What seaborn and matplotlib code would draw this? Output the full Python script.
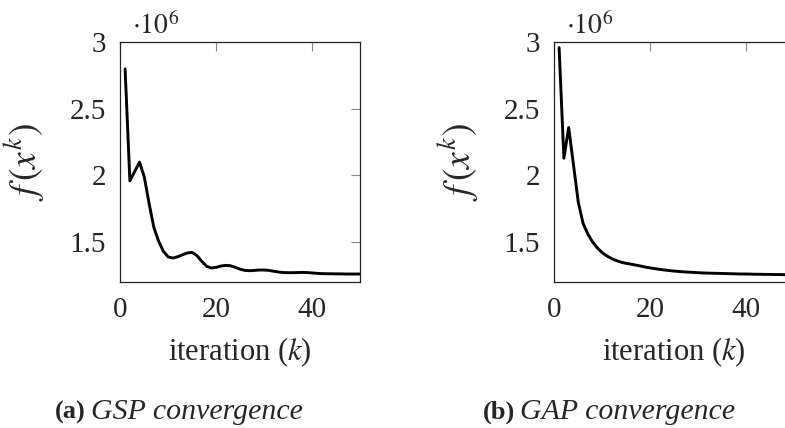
import matplotlib
matplotlib.use("Agg")
import matplotlib.pyplot as plt
from matplotlib.ticker import FuncFormatter
import numpy as np
import pandas as pd
import seaborn as sns

# Objective value per iteration for the two solvers
iterations = list(range(1, 51))
gsp_values = [
    2.80e6, 1.96e6, 2.03e6, 2.10e6, 1.99e6, 1.79e6, 1.61e6, 1.505e6, 1.43e6, 1.388e6,
    1.380e6, 1.390e6, 1.405e6, 1.418e6, 1.422e6, 1.398e6, 1.355e6, 1.318e6, 1.305e6, 1.310e6,
    1.320e6, 1.325e6, 1.322e6, 1.310e6, 1.296e6, 1.287e6, 1.285e6, 1.287e6, 1.290e6, 1.290e6,
    1.287e6, 1.281e6, 1.275e6, 1.271e6, 1.270e6, 1.270e6, 1.271e6, 1.272e6, 1.271e6, 1.268e6,
    1.265e6, 1.263e6, 1.262e6, 1.262e6, 1.261e6, 1.261e6, 1.260e6, 1.260e6, 1.260e6, 1.260e6,
]
gap_values = [
    2.96e6, 2.13e6, 2.36e6, 2.08e6, 1.80e6, 1.64e6, 1.56e6, 1.50e6, 1.455e6, 1.42e6,
    1.395e6, 1.375e6, 1.360e6, 1.348e6, 1.340e6, 1.334e6, 1.327e6, 1.320e6, 1.312e6, 1.306e6,
    1.300e6, 1.295e6, 1.290e6, 1.286e6, 1.282e6, 1.279e6, 1.276e6, 1.274e6, 1.272e6, 1.270e6,
    1.268e6, 1.267e6, 1.266e6, 1.265e6, 1.264e6, 1.263e6, 1.262e6, 1.261e6, 1.260e6, 1.260e6,
    1.259e6, 1.258e6, 1.258e6, 1.257e6, 1.257e6, 1.256e6, 1.256e6, 1.255e6, 1.255e6, 1.255e6,
]
x_ticks = [0, 20, 40]
y_ticks = [1.5e6, 2.0e6, 2.5e6, 3.0e6]
captions = [("(a)", "GSP convergence"), ("(b)", "GAP convergence")]

sns.set_theme(style="white")
plt.rcParams["font.family"] = ["Liberation Serif", "DejaVu Serif"]
plt.rcParams["mathtext.fontset"] = "stix"

fig = plt.figure(figsize=(7.85, 4.28), dpi=100)
W, H = 785, 428

def px_axes(left, top, right, bottom):
    return fig.add_axes([left / W, 1 - bottom / H, (right - left) / W, (bottom - top) / H])

AX_W = 239.7
ax_a = px_axes(120.3, 42.3, 120.3 + AX_W, 282.0)
ax_b = px_axes(554.3, 42.3, 554.3 + AX_W, 282.0)

frames = [
    pd.DataFrame({"iteration": iterations, "f": gsp_values}),
    pd.DataFrame({"iteration": iterations, "f": gap_values}),
]

fmt = FuncFormatter(lambda v, pos: f"{v / 1e6:g}")

for ax, df in zip([ax_a, ax_b], frames):
    sns.lineplot(data=df, x="iteration", y="f", ax=ax, color="black", linewidth=2.1)
    ax.set_xlim(0, 50)
    ax.set_ylim(1.2e6, 3.0e6)
    ax.set_xticks(x_ticks)
    ax.set_yticks(y_ticks)
    ax.yaxis.set_major_formatter(fmt)
    ax.tick_params(direction="in", length=6.5, width=0.8, color="#8a8a8a",
                   top=True, right=True, labelsize=21)
    ax.tick_params(axis="x", pad=11)
    ax.tick_params(axis="y", pad=10)
    for s in ax.spines.values():
        s.set_color("#222222")
        s.set_linewidth(0.9)
    ax.set_xlabel(r"iteration ($k$)", fontsize=22, labelpad=9)
    ax.set_ylabel(r"$f\,(x^k)$", fontsize=27)
    ax.yaxis.set_label_coords(-73 / AX_W, 0.5)
    ax.text(0.05, 1.01, r"$\cdot 10^{6}$", transform=ax.transAxes,
            fontsize=20, ha="left", va="bottom")

for (tag, name), (tag_right, name_left) in zip(captions, [(86, 91), (515, 520)]):
    fig.text(tag_right / W, 1 - 419 / H, tag, fontsize=19, fontweight="bold",
             ha="right", va="baseline")
    fig.text(name_left / W, 1 - 419 / H, name, fontsize=21.5, style="italic",
             ha="left", va="baseline")

fig.savefig("out.png", dpi=100)
